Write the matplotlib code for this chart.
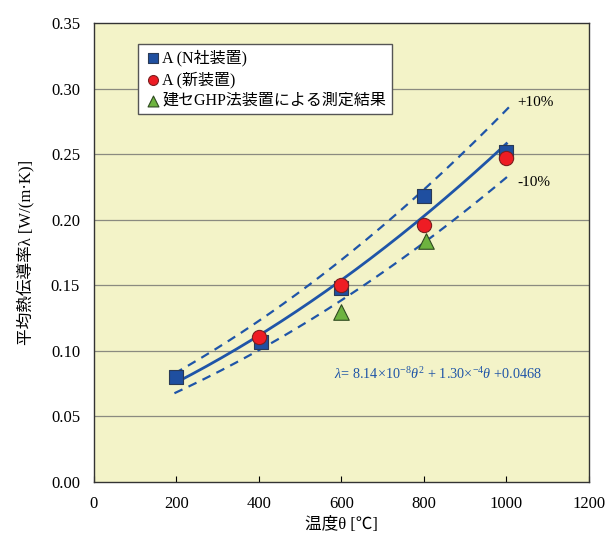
import numpy as np
import matplotlib.pyplot as plt

plt.rcParams['font.family'] = ['Liberation Serif', 'Noto Sans CJK JP', 'DejaVu Serif']
plt.rcParams['mathtext.fontset'] = 'custom'
plt.rcParams['mathtext.rm'] = 'Liberation Serif'
plt.rcParams['mathtext.it'] = 'Liberation Serif:italic'

# N社装置
x_sq = [200, 405, 600, 800, 1000]
y_sq = [0.080, 0.107, 0.148, 0.218, 0.252]
# 新装置
x_ci = [400, 600, 800, 1000]
y_ci = [0.111, 0.150, 0.196, 0.247]
# 建セGHP法
x_tr = [600, 805]
y_tr = [0.130, 0.184]

# fit coefficients (from the equation on the chart)
coef = [8.14e-8, 1.30e-4, 0.0468]

fig = plt.figure(figsize=(6.06, 5.41), dpi=100)
ax = fig.add_axes([0.1551, 0.1091, 0.8168, 0.8478])
ax.set_facecolor('#F3F3C8')

for y in np.arange(0.05, 0.35, 0.05):
    ax.axhline(y, color='#8a8a80', lw=0.9, zorder=1)

blue = '#1F55A8'
th = np.linspace(200, 1000, 200)
lam = np.polyval(coef, th)
ax.plot(th, lam, color=blue, lw=2, zorder=3)
th2 = np.linspace(195, 1012, 200)
lam2 = np.polyval(coef, th2)
ax.plot(th2, lam2 * 1.1, color=blue, lw=1.6, ls=(0, (4, 3)), zorder=3)
ax.plot(th2, lam2 * 0.9, color=blue, lw=1.6, ls=(0, (4, 3)), zorder=3)

ax.scatter(x_sq, y_sq, marker='s', s=115, color='#1F4FA0', edgecolor='#2a3a55',
           lw=0.8, zorder=4, label='A (N社装置)')
ax.scatter(x_ci, y_ci, marker='o', s=105, color='#EE1C24', edgecolor='#7a2020',
           lw=0.8, zorder=5, label='A (新装置)')
ax.scatter(x_tr, y_tr, marker='^', s=125, color='#6DB33F', edgecolor='#2f4a20',
           lw=0.8, zorder=5, label='建セGHP法装置による測定結果')

ax.text(1025, 0.287, '+10%', fontsize=11)
ax.text(1027, 0.226, '-10%', fontsize=11)
ax.text(582, 0.0785, r'$\it{\lambda}$= 8.14×10$^{-8}$$\it{\theta}^2$ + 1.30×$^{-4}$$\it{\theta}$ +0.0468',
        color=blue, fontsize=10.3)

ax.set_xlim(0, 1200)
ax.set_ylim(0, 0.35)
ax.set_xticks(range(0, 1201, 200))
ax.set_yticks(np.arange(0, 0.351, 0.05))
ax.set_yticklabels(['%.2f' % v for v in np.arange(0, 0.351, 0.05)])
ax.tick_params(axis='x', direction='in', length=4, labelsize=12, pad=10)
ax.tick_params(axis='y', length=0, labelsize=12, pad=10)
for s in ax.spines.values():
    s.set_color('#333333')
    s.set_linewidth(1)

ax.set_xlabel('温度θ [℃]', fontsize=12, labelpad=4)
ax.set_ylabel('平均熱伝導率λ [W/(m·K)]', fontsize=12, labelpad=12)

leg = ax.legend(loc='upper left', bbox_to_anchor=(0.088, 0.955), fontsize=11.5,
                frameon=True, fancybox=False, edgecolor='#555555', framealpha=1,
                handletextpad=0.0, borderpad=0.35, labelspacing=0.3,
                borderaxespad=0, handlelength=1.2, scatterpoints=1,
                markerscale=0.7)
leg.get_frame().set_linewidth(1)

fig.savefig('out.png', dpi=100)
